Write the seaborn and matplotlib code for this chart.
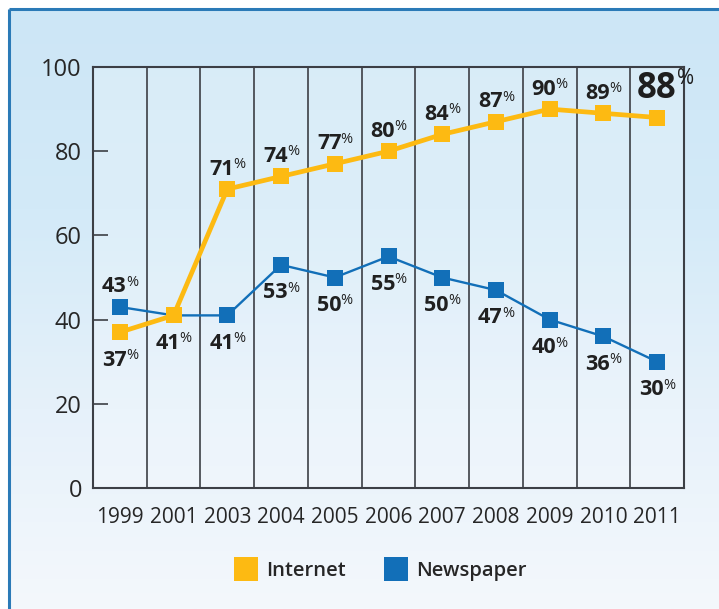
import numpy as np
import pandas as pd
import matplotlib
matplotlib.use("Agg")
import matplotlib.pyplot as plt
from matplotlib.lines import Line2D
from matplotlib.colors import LinearSegmentedColormap
import seaborn as sns

# ---- data -------------------------------------------------------------
years = ["1999", "2001", "2003", "2004", "2005", "2006",
         "2007", "2008", "2009", "2010", "2011"]
internet = [37, 41, 71, 74, 77, 80, 84, 87, 90, 89, 88]
newspaper = [43, 41, 41, 53, 50, 55, 50, 47, 40, 36, 30]
# where each value label sits relative to its point (None = no label)
internet_label_side = ["below", "below", "above", "above", "above", "above",
                       "above", "above", "above", "above", "big"]
newspaper_label_side = ["above", None, "below", "below", "below", "below",
                        "below", "below", "below", "below", "below"]
y_ticks = [0, 20, 40, 60, 80, 100]

# ---- style ------------------------------------------------------------
sns.set_theme(style="white")
plt.rcParams["font.family"] = ["Open Sans", "DejaVu Sans"]

ORANGE = "#FDBA12"
BLUE = "#126FB8"
DARK = "#262626"
GRID = "#3c3f45"

W, H = 719, 609
fig = plt.figure(figsize=(W / 100, H / 100), dpi=100)
fig.patch.set_facecolor("white")

# background panel with soft blue gradient and a thin blue frame
bg = fig.add_axes([0, 0, 1, 1], zorder=-10)
bg.set_xlim(0, 1)
bg.set_ylim(0, 1)
bg.axis("off")
grad = np.linspace(0, 1, 256).reshape(-1, 1)
cmap = LinearSegmentedColormap.from_list(
    "panel", ["#f4f8fc", "#e6f1fa", "#d3eaf8", "#cde6f6"])
fx, fy = 9 / W, 1 - 9 / H
bg.imshow(grad, cmap=cmap, origin="lower", aspect="auto",
          extent=[fx, 1, 0, fy])
bg.plot([fx, fx], [0, fy], color="#2b7ab7", lw=2.2, solid_capstyle="butt")
bg.plot([fx, 1], [fy, fy], color="#2b7ab7", lw=2.2, solid_capstyle="butt")

# ---- main axes --------------------------------------------------------
left, right, top, bottom = 93, 684, 67, 488
ax = fig.add_axes([left / W, 1 - bottom / H, (right - left) / W, (bottom - top) / H])
ax.set_facecolor((1, 1, 1, 0.22))

df = pd.DataFrame({"pos": np.arange(len(years)), "year": years,
                   "Internet": internet, "Newspaper": newspaper})

sns.lineplot(data=df, x="pos", y="Newspaper", ax=ax, color=BLUE, lw=1.7,
             marker="s", markersize=11, markeredgewidth=0, zorder=3)
sns.lineplot(data=df, x="pos", y="Internet", ax=ax, color=ORANGE, lw=3.4,
             marker="s", markersize=11, markeredgewidth=0, zorder=4)

ax.set_xlim(-0.5, len(years) - 0.5)
ax.set_ylim(0, 100)
ax.set_xlabel("")
ax.set_ylabel("")
ax.set_xticks(df["pos"])
ax.set_xticklabels(years, fontsize=15, color=DARK)
ax.set_xticks(np.arange(-0.5, len(years)), minor=True)
ax.set_yticks(y_ticks)
ax.set_yticklabels([str(t) for t in y_ticks], fontsize=17, color=DARK)
ax.tick_params(axis="x", which="both", length=0, pad=14)
ax.tick_params(axis="y", which="major", direction="in", length=11,
               width=1.2, color=GRID, pad=8, left=True)
ax.grid(False)
ax.grid(axis="x", which="minor", color=GRID, lw=1.2)
for s in ax.spines.values():
    s.set_visible(True)
    s.set_color(GRID)
    s.set_linewidth(1.5)


def value_label(x, y, value, side):
    if side is None:
        return
    if side == "big":
        ax.annotate(f"{value}", (x, y), xytext=(14, 14), textcoords="offset points",
                    ha="right", va="baseline", fontsize=25, fontweight="bold",
                    color="#1e1e1e", annotation_clip=False, zorder=6)
        ax.annotate("%", (x, y), xytext=(14.5, 24), textcoords="offset points",
                    ha="left", va="baseline", fontsize=15, color="#1e1e1e",
                    annotation_clip=False, zorder=6)
        return
    dy = 10.5 if side == "above" else -24
    ax.annotate(f"{value}", (x, y), xytext=(4.8, dy), textcoords="offset points",
                ha="right", va="baseline", fontsize=15.5, fontweight="bold",
                color="#202020", zorder=6)
    ax.annotate("%", (x, y), xytext=(4.3, dy + 4.6), textcoords="offset points",
                ha="left", va="baseline", fontsize=10.5, color="#202020", zorder=6)


for i in range(len(years)):
    value_label(i, internet[i], internet[i], internet_label_side[i])
    value_label(i, newspaper[i], newspaper[i], newspaper_label_side[i])

# ---- legend -----------------------------------------------------------
handles = [Line2D([], [], ls="none", marker="s", markersize=17,
                  markerfacecolor=c, markeredgewidth=0) for c in (ORANGE, BLUE)]
fig.legend(handles, ["Internet", "Newspaper"], loc="center",
           bbox_to_anchor=(381 / W, 1 - 571 / H), ncol=2, frameon=False,
           prop={"size": 14.5, "weight": "semibold"}, handlelength=1.0,
           handletextpad=0.5, columnspacing=2.0, labelcolor=DARK)

fig.savefig("out.png", dpi=100)
